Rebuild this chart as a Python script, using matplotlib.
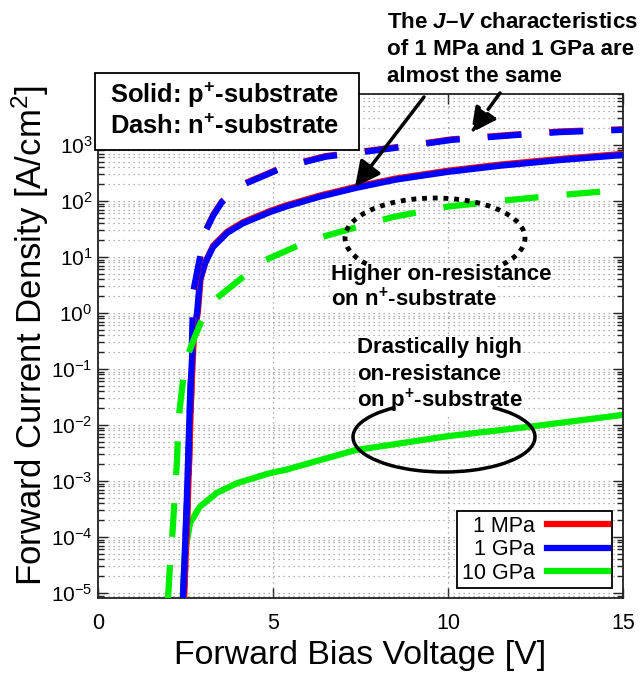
import numpy as np
import matplotlib
matplotlib.use('Agg')
import matplotlib.pyplot as plt
from matplotlib.patches import Rectangle, Arc, FancyArrowPatch
from matplotlib.lines import Line2D
from matplotlib.ticker import LogLocator, NullFormatter, MultipleLocator

plt.rcParams['font.family'] = ['Liberation Sans', 'DejaVu Sans']
plt.rcParams['mathtext.fontset'] = 'custom'
plt.rcParams['mathtext.rm'] = 'Liberation Sans'
plt.rcParams['mathtext.it'] = 'Liberation Sans:italic'
plt.rcParams['mathtext.bf'] = 'Liberation Sans:bold'
plt.rcParams['mathtext.bfit'] = 'Liberation Sans:italic:bold'

# ---- data (V in volts, J in A/cm^2 as log10) ----
# solid lines: p+-substrate
v_1gpa_p = [2.43, 2.54, 2.63, 2.72, 2.83, 2.91, 3.06, 3.29, 3.69, 4.14, 4.91, 5.37, 6.3, 7.35, 8.5, 10.0, 11.5, 13.2, 15.0]
logj_1gpa_p = [-5.1, -3.29, -1.5, -0.4, 0.0, 0.59, 0.89, 1.18, 1.43, 1.6, 1.8, 1.9, 2.07, 2.23, 2.38, 2.52, 2.63, 2.73, 2.82]
v_1mpa_p = [2.46, 2.57, 2.66, 2.74, 2.85, 2.93, 3.07, 3.29, 3.69, 4.14, 4.91, 5.37, 6.3, 7.35, 8.5, 10.0, 11.5, 13.2, 15.0]
logj_1mpa_p = [-5.1, -3.29, -1.5, -0.4, 0.0, 0.6, 0.91, 1.2, 1.45, 1.62, 1.82, 1.92, 2.09, 2.25, 2.4, 2.54, 2.65, 2.75, 2.84]
v_10gpa_p = [2.42, 2.48, 2.63, 2.91, 3.4, 3.97, 4.91, 5.37, 7.35, 10.0, 12.35, 15.0]
logj_10gpa_p = [-5.1, -4.3, -3.75, -3.46, -3.21, -3.04, -2.86, -2.8, -2.45, -2.2, -2.03, -1.82]

# dashed lines: n+-substrate
v_1gpa_n = [2.43, 2.55, 2.64, 2.69, 2.72, 2.91, 3.06, 3.3, 3.54, 3.8, 4.14, 4.63, 5.3, 6.5, 8.4, 10.1, 12.0, 13.2, 15.0]
logj_1gpa_n = [-5.1, -3.3, -1.5, -0.4, 0.38, 0.98, 1.45, 1.75, 1.98, 2.13, 2.29, 2.42, 2.6, 2.79, 2.94, 3.09, 3.18, 3.23, 3.27]
v_1mpa_n = [2.45, 2.57, 2.66, 2.71, 2.74, 2.92, 3.07, 3.3, 3.54, 3.8, 4.14, 4.63, 5.3, 6.5, 8.4, 10.1, 12.0, 13.2, 15.0]
logj_1mpa_n = [-5.1, -3.3, -1.5, -0.4, 0.38, 0.99, 1.46, 1.76, 1.99, 2.14, 2.3, 2.43, 2.61, 2.8, 2.95, 3.1, 3.19, 3.24, 3.28]
v_10gpa_n = [2.0, 2.06, 2.12, 2.2, 2.26, 2.3, 2.43, 2.57, 2.75, 2.95, 3.4, 4.14, 4.8, 6.07, 7.1, 8.4, 10.0, 11.8, 13.3, 15.0]
logj_10gpa_n = [-5.1, -4.46, -4.0, -3.2, -2.6, -1.9, -1.2, -0.75, -0.45, -0.15, 0.27, 0.64, 0.95, 1.3, 1.48, 1.71, 1.9, 2.02, 2.11, 2.2]

labels = ['1 MPa', '1 GPa', '10 GPa']
colors = ['#ff0000', '#0000ff', '#00ee00']

W, H = 640, 674


def fp(x, y):
    # reference pixel -> figure fraction
    return (x / W, 1 - y / H)


fig = plt.figure(figsize=(W / 100, H / 100), dpi=100)
ax = fig.add_axes([98 / W, 1 - 598 / H, (623 - 98) / W, (598 - 94) / H])

lw = 4.5
dash = (5.4, 4.5)
ax.plot(v_10gpa_p, 10 ** np.array(logj_10gpa_p), color=colors[2], lw=lw, zorder=2)
ax.plot(v_1mpa_p, 10 ** np.array(logj_1mpa_p), color=colors[0], lw=lw, zorder=3)
ax.plot(v_1gpa_p, 10 ** np.array(logj_1gpa_p), color=colors[1], lw=lw, zorder=4)
ax.plot(v_1mpa_n, 10 ** np.array(logj_1mpa_n), color=colors[0], lw=lw, dashes=dash, zorder=5)
ax.plot(v_1gpa_n, 10 ** np.array(logj_1gpa_n), color=colors[1], lw=lw, dashes=dash, zorder=6)
ax.plot(v_10gpa_n, 10 ** np.array(logj_10gpa_n), color=colors[2], lw=lw, dashes=dash, zorder=7)

ax.set_yscale('log')
ax.set_xlim(0, 15)
ax.set_ylim(10 ** -5.09, 10 ** 3.91)
ax.xaxis.set_major_locator(MultipleLocator(5))
ax.yaxis.set_major_locator(LogLocator(base=10, numticks=20))
ax.yaxis.set_minor_locator(LogLocator(base=10, subs=np.arange(2, 10), numticks=20))
ax.yaxis.set_minor_formatter(NullFormatter())

ax.grid(which='both', axis='y', color='#9a9a9a', lw=0.9, ls=(0, (1, 3)))
ax.grid(which='major', axis='x', color='#9a9a9a', lw=0.9, ls=(0, (1, 3)))
ax.tick_params(which='both', direction='in', top=True, right=True, width=1, colors='#222222')
ax.tick_params(which='major', length=7)
ax.tick_params(which='minor', length=4)
ax.tick_params(axis='x', labelsize=15.5, pad=11, labelcolor='black')
ax.tick_params(axis='y', labelsize=15, pad=4, labelcolor='black')
for s in ax.spines.values():
    s.set_linewidth(1.3)
    s.set_color('#222222')

handles = [Line2D([], [], color=c, lw=lw) for c in colors]
leg = ax.legend(handles, labels, loc='lower right', bbox_to_anchor=((612 - 98) / 525, (598 - 588) / 504),
                markerfirst=False, fancybox=False, edgecolor='black', framealpha=1, fontsize=15.5,
                handlelength=2.8, handletextpad=0.6, borderpad=0.2, labelspacing=0.12, borderaxespad=0)
leg.get_frame().set_linewidth(1.3)

fig.text(*fp(360, 664), 'Forward Bias Voltage [V]', fontsize=24.4, ha='center', va='baseline')
fig.text(*fp(42, 335), 'Forward Current Density [A/cm$^2$]', fontsize=25, ha='center', va='baseline',
         rotation=90, rotation_mode='anchor')

# legend box for line styles
fig.add_artist(Rectangle(fp(95, 150), (359 - 95) / W, (150 - 73) / H, transform=fig.transFigure,
                         facecolor='white', edgecolor='black', lw=1.3, zorder=5))
fig.text(*fp(110, 103), r'Solid: p$^{\mathbf{+}}$-substrate', fontsize=18.4, fontweight='bold', va='baseline', zorder=6)
fig.text(*fp(110, 134), r'Dash: n$^{\mathbf{+}}$-substrate', fontsize=18.4, fontweight='bold', va='baseline', zorder=6)

# annotation texts
for y, s in zip([28, 55, 82], [r'The $\mathbfit{J}$–$\mathbfit{V}$ characteristics',
                               'of 1 MPa and 1 GPa are', 'almost the same']):
    fig.text(*fp(387, y), s, fontsize=16.1, fontweight='bold', va='baseline')

fs = 16
bb = dict(facecolor='white', edgecolor='none', pad=1)
fig.text(*fp(331, 280), 'Higher on-resistance', fontsize=fs, fontweight='bold', va='baseline', bbox=bb)
fig.text(*fp(331, 306), r'on n$^{\mathbf{+}}$-substrate', fontsize=fs, fontweight='bold', va='baseline', bbox=bb)
fig.text(*fp(357, 353), 'Drastically high', fontsize=fs, fontweight='bold', va='baseline', bbox=bb)
fig.text(*fp(357, 380), 'on-resistance', fontsize=fs, fontweight='bold', va='baseline', bbox=bb)
fig.text(*fp(357, 407), r'on p$^{\mathbf{+}}$-substrate', fontsize=fs, fontweight='bold', va='baseline', bbox=bb)

# arrows
fig.add_artist(FancyArrowPatch(fp(424, 97), fp(355, 187), transform=fig.transFigure,
                               arrowstyle='-|>,head_length=0.7,head_width=0.35', mutation_scale=22,
                               lw=2.5, color='black', shrinkA=0, shrinkB=0, zorder=8))
fig.add_artist(FancyArrowPatch(fp(500, 93), fp(471, 133), transform=fig.transFigure,
                               arrowstyle='-|>,head_length=0.7,head_width=0.35', mutation_scale=22,
                               lw=2.5, ls=(0, (5.8, 2.9)), color='black', shrinkA=0, shrinkB=0, zorder=8))

# ellipses
fig.add_artist(Arc(fp(435, 238), 180 / W, 80 / H, theta1=-20, theta2=200, transform=fig.transFigure,
                   lw=3.5, ls=(0, (1, 1.2)), color='black', zorder=8))
fig.add_artist(Arc(fp(444, 437), 182 / W, 70 / H, theta1=150, theta2=30, transform=fig.transFigure,
                   lw=2.5, color='black', zorder=8))

fig.savefig('out.png', dpi=100)
